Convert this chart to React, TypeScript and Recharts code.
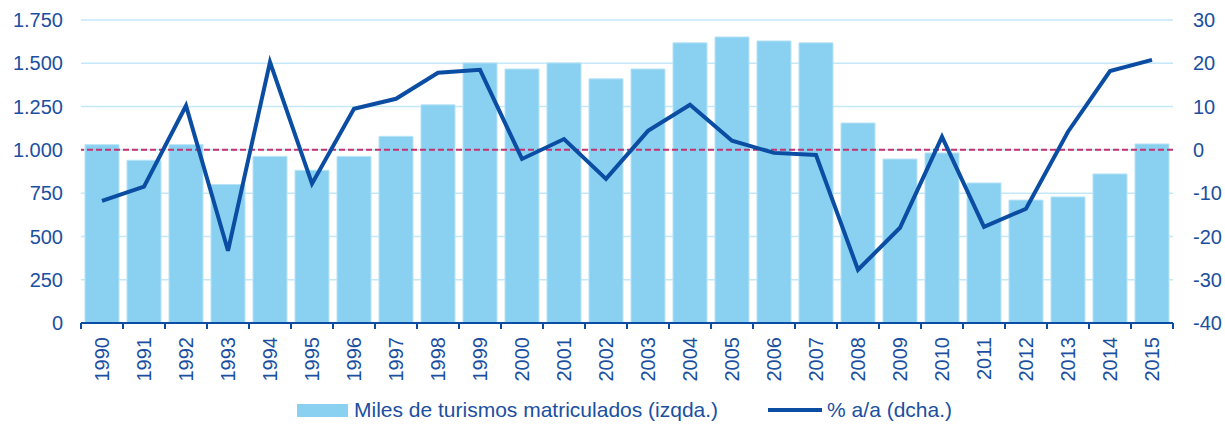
import React from 'react';
import {
  ComposedChart,
  Bar,
  Line,
  XAxis,
  YAxis,
  CartesianGrid,
  Legend,
  ReferenceLine,
} from 'recharts';

const years = [
  '1990', '1991', '1992', '1993', '1994', '1995', '1996', '1997', '1998', '1999',
  '2000', '2001', '2002', '2003', '2004', '2005', '2006', '2007', '2008', '2009',
  '2010', '2011', '2012', '2013', '2014', '2015',
];

// miles de turismos matriculados (eje izquierdo)
const turismos = [
  1030, 940, 1030, 800, 962, 882, 962, 1078, 1260, 1502,
  1467, 1502, 1410, 1467, 1618, 1652, 1629, 1618, 1155, 947,
  982, 809, 710, 728, 861, 1034,
];

// % a/a (eje derecho)
const variacion = [
  -11.8, -8.5, 10.2, -23.3, 20.3, -7.8, 9.5, 11.8, 17.8, 18.5,
  -2.1, 2.5, -6.7, 4.4, 10.4, 2.1, -0.7, -1.2, -27.7, -18.0,
  3.0, -17.8, -13.6, 4.2, 18.2, 20.8,
];

const leftTicks = [0, 250, 500, 750, 1000, 1250, 1500, 1750];
const rightTicks = [-40, -30, -20, -10, 0, 10, 20, 30];

const data = years.map((year, i) => ({
  year,
  turismos: turismos[i],
  variacion: variacion[i],
}));

const BLUE_TEXT = '#1B4F9F';
const BAR_FILL = '#89D0F1';
const LINE_COLOR = '#0B4DA2';
const FONT = '"Liberation Sans", Arial, sans-serif';

const fmtThousands = (v: number) =>
  String(v).replace(/\B(?=(\d{3})+(?!\d))/g, '.');

const YearTick = (props: any) => {
  const { x, y, payload, index, visibleTicksCount } = props;
  const half = payload.offset ?? 0;
  const isLast = index === visibleTicksCount - 1;
  return (
    <g>
      <line x1={x - half} x2={x - half} y1={y} y2={y + 6} stroke={LINE_COLOR} strokeWidth={2} />
      {isLast && (
        <line x1={x + half} x2={x + half} y1={y} y2={y + 6} stroke={LINE_COLOR} strokeWidth={2} />
      )}
      <text
        x={x + 7}
        y={y + 14}
        transform={`rotate(-90, ${x + 7}, ${y + 14})`}
        textAnchor="end"
        fill={BLUE_TEXT}
        fontSize={20}
        fontFamily={FONT}
      >
        {payload.value}
      </text>
    </g>
  );
};

const LegendContent = () => (
  <div
    style={{
      display: 'flex',
      justifyContent: 'center',
      alignItems: 'center',
      height: 40,
      paddingLeft: 24,
      boxSizing: 'border-box',
      fontFamily: FONT,
      fontSize: 21,
      color: BLUE_TEXT,
    }}
  >
    <span style={{ display: 'inline-block', width: 51, height: 13, background: BAR_FILL, marginRight: 6 }} />
    <span>Miles de turismos matriculados (izqda.)</span>
    <span style={{ display: 'inline-block', width: 54, height: 4, background: LINE_COLOR, marginLeft: 50, marginRight: 5 }} />
    <span>% a/a (dcha.)</span>
  </div>
);

export default function App() {
  return (
    <div style={{ position: 'absolute', left: 0, top: 0, width: 1225, height: 430, background: '#fff' }}>
      <ComposedChart
        width={1225}
        height={430}
        data={data}
        margin={{ top: 20, right: 0, bottom: 0, left: 0 }}
        barCategoryGap="9.5%"
      >
        <CartesianGrid
          yAxisId="left"
          vertical={false}
          stroke="#C4E8F8"
          strokeWidth={1.5}
        />
        <XAxis
          dataKey="year"
          height={67}
          interval={0}
          tickSize={0}
          tickMargin={0}
          tickLine={false}
          axisLine={{ stroke: LINE_COLOR, strokeWidth: 2 }}
          tick={<YearTick />}
        />
        <YAxis
          yAxisId="left"
          width={81}
          domain={[0, 1750]}
          ticks={leftTicks}
          tickFormatter={fmtThousands}
          axisLine={false}
          tickLine={false}
          tickSize={0}
          tickMargin={18}
          tick={{ fill: BLUE_TEXT, fontSize: 20, fontFamily: FONT }}
        />
        <YAxis
          yAxisId="right"
          orientation="right"
          width={52}
          domain={[-40, 30]}
          ticks={rightTicks}
          axisLine={false}
          tickLine={false}
          tickSize={0}
          tickMargin={20}
          tick={{ fill: BLUE_TEXT, fontSize: 20, fontFamily: FONT, textAnchor: 'start' }}
        />
        <Legend
          verticalAlign="bottom"
          height={40}
          content={<LegendContent />}
          wrapperStyle={{ left: 0, bottom: 0, width: 1225, height: 40 }}
        />
        <Bar
          yAxisId="left"
          dataKey="turismos"
          fill={BAR_FILL}
          stroke="#B8E3F7"
          strokeWidth={1}
          isAnimationActive={false}
        />
        <ReferenceLine
          yAxisId="right"
          y={0}
          stroke="#C3336F"
          strokeWidth={2}
          strokeDasharray="6 3"
        />
        <Line
          yAxisId="right"
          type="linear"
          dataKey="variacion"
          stroke={LINE_COLOR}
          strokeWidth={4}
          dot={false}
          activeDot={false}
          isAnimationActive={false}
        />
      </ComposedChart>
    </div>
  );
}
